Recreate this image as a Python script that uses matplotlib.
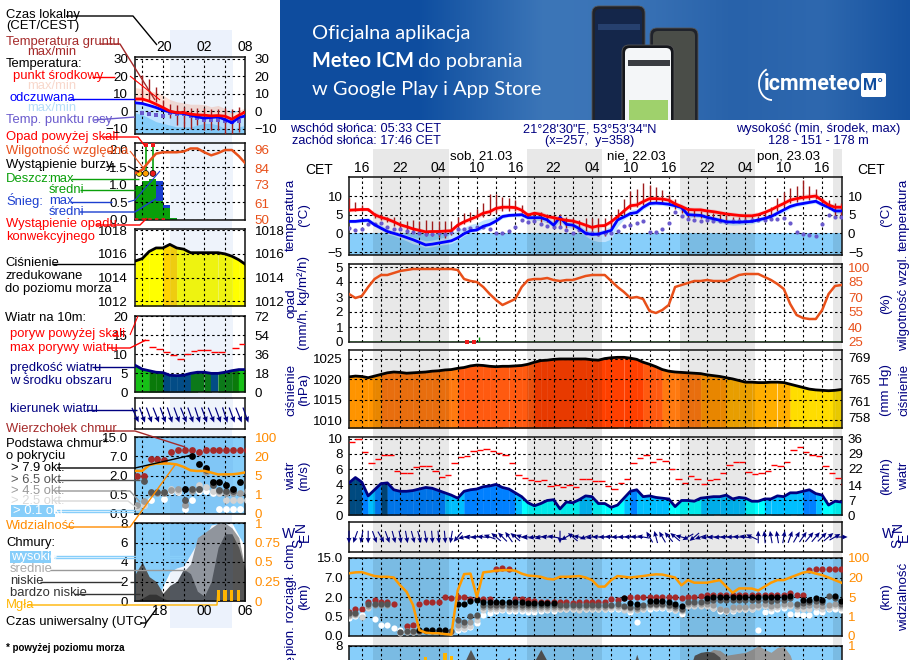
import numpy as np
import matplotlib
matplotlib.use("Agg")
from matplotlib import pyplot as plt
from matplotlib.patches import FancyBboxPatch, Rectangle, Arc

plt.rcParams['font.family'] = ['Liberation Sans', 'DejaVu Sans']
plt.rcParams['font.size'] = 9.4

W, H = 910, 660
na = float('nan')

# ---------- main meteogram, one value per hour, hour 14 of 20.03 onwards ----------
temp_mid = [6.2,6.3,6.4,6.4,5.0,4.3,3.8,3.1,2.3,1.8,1.2,0.8,
            .4,.5,.5,.6,.7,2.2,3.1,3.8,4.5,5.4,5.8,6.7,
            7,7,6.9,6.2,4.9,5.4,5.1,4.5,4.2,3.8,3.5,3.3,
            2.8,2.2,1.6,2.0,2.1,3.1,4.5,6,7.4,7.6,8.5,9.3,
            9.3,9.2,8.9,7.9,7.2,6.4,6.3,6.3,6.0,5.8,5.5,5.2,
            5.0,4.8,4.7,4.7,5.0,5.6,6.3,7.2,8.0,8.9,9.3,9.6,
            9.8,10,8.8,7.6,7,7]
temp_max = [6.8,6.9,7,7,5.8,5,4.5,3.8,2.8,2.3,1.8,1.4,
            1,1,1.1,1.2,1.5,2.9,3.8,4.6,5.4,6.2,6.6,7.5,
            7.8,7.8,7.6,7,5.6,6.1,5.9,5.2,5,4.6,4.1,4,
            3.4,2.8,2.2,2.6,2.8,3.8,5.2,6.8,8.2,8.5,9.4,10.2,
            10.2,10,9.7,8.7,7.9,7.1,7,7,6.7,6.5,6.2,5.9,
            5.7,5.5,5.4,5.5,5.8,6.4,7.1,8,8.9,9.8,10.2,10.5,
            10.7,10.9,9.7,8.4,7.7,7.7]
temp_min = [5.8,5.8,6,6,4.4,3.7,3.2,2.6,1.8,1.3,.8,.3,
            0,0,.1,.2,.2,1.6,2.6,3.2,3.9,4.7,5.2,6,
            6.3,6.4,6.2,5.5,4.3,4.8,4.5,3.8,3.6,3.1,2.9,2.7,
            2.2,1.6,1,1.4,1.6,2.5,3.9,5.4,6.8,7,7.8,8.6,
            8.5,8.4,8.2,7.2,6.6,5.8,5.7,5.7,5.4,5.2,4.9,4.6,
            4.4,4.2,4.1,4.1,4.4,5,5.6,6.6,7.3,8.2,8.7,9,
            9.2,9.4,8.2,7,6.4,6.4]
felt_mid = [3.2,3.2,3.4,3.5,2.3,1.4,.5,0,-.5,-1.1,-1.7,-2.4,
            -3.1,-2.9,-2.6,-2.3,-2,-1.2,-.1,.7,.9,1.9,2.4,3.3,
            4.5,4.8,4.9,5,4.2,4.2,4.2,3.6,2.2,4.3,2.4,2.2,
            1.3,0,-.3,-.2,.3,.8,3.6,4.4,5.3,5.6,7,8,
            8.1,8,7.8,7.4,6.9,5,4.9,4.8,4.3,3.9,3.5,3.1,
            3,3,3.1,3.2,3.6,4,4.5,5.4,6.3,7.2,7.7,8,
            8.3,8.6,7.7,7,6,6]
felt_max = [3.8,3.8,4,4.2,3,2.2,1.2,.6,.2,-.4,-1,-1.5,
            -2,-1.8,-1.4,-1,0,1,1.6,2.4,2.8,3.6,4,4.6,
            5.2,5.5,5.5,5.5,4.8,5,4.8,4.2,3.2,4.8,3.2,3,
            2.2,1,.6,.6,1.2,2,4.6,5.2,6.3,6.6,7.8,8.7,
            8.8,8.7,8.5,8.1,7.6,5.8,5.6,5.5,5,4.6,4.2,3.8,
            3.8,3.8,3.8,3.9,4.3,4.8,5.4,6.3,7,7.9,8.4,8.7,
            9,9.2,8.4,7.7,6.7,6.7]
felt_min = [2.8,2.8,2.9,3,1.8,.8,-.2,-.6,-1.3,-2,-2.8,-3.2,
            -3.8,-3.6,-3.2,-3,-2.7,-1.8,-.6,.2,.5,1.2,2,2.9,
            4,4.4,4.5,4.4,3.6,3.6,3.4,2.8,1.5,3,1.6,1.4,
            .6,-.7,-1.8,-2.2,-2.2,-1.5,1.8,3.8,4.8,5,6.4,7.4,
            7.6,7.5,7.2,6.8,6,4.2,4.3,4.2,3.7,3.3,2.8,2.4,
            2.2,2.3,2.4,2.6,3,3.5,4,4.8,5.7,6.6,7.2,7.5,
            7.9,8,7.1,6.4,5.4,5.4]
dew_point = [1.5,.9,1.2,2.5,2.4,2.7,1.8,1.2,1.2,.7,.3,0,
             -.2,-.3,0,-.2,.3,1.2,1.1,1.4,1.8,1.8,1.2,0,
             0,.6,1.6,3.5,3,3.4,2.6,2,1.8,1.8,.9,0,
             .9,.2,0,-.2,.1,0,.7,2,2.2,2.9,3.4,.4,
             .4,1.3,2.9,5.8,4.7,3.8,3.6,3.3,3.6,3.4,3.4,3.1,
             3.3,3.3,3.4,3.5,3.6,3.6,3.8,3.8,4.2,2.9,.4,-.2,
             -.4,-.7,2.4,4.9,4.3,4.3]
ground_max = [9.5,8.3,7.5,6.5,5.5,5.3,4.5,4.4,3.2,3.3,3.6,3.2,
              3.5,3.4,3.4,3.3,3.2,4.5,5.4,5.8,6.4,8,10.5,10.5,
              9.8,9.4,8.9,7.6,5.4,5.7,5.7,5.1,5,5.3,4.4,4,
              3.6,4,4.2,4,4,5,6.4,9.2,11.4,12,13.4,13,
              12.5,11.6,10.3,9.2,6.7,6.5,6.4,6,5.8,5.4,5.1,5,
              4.5,4.5,4.5,4.7,4.7,5.4,7,9.4,11.2,12.2,12.7,14.3,
              12.7,12,9.6,8.9,8,8]
ground_min = [6,6,6,6,4,3.5,3,2,1.5,0,0,0,
              -.8,-.8,-1,-1.2,-.5,1.5,2.5,3,4,4.5,5,5.5,
              6,6,6,5.5,4,3.5,3,3,2.5,2,1.5,1.5,
              1,.5,-.5,-.8,-.8,1.5,3.5,5,6.5,7,7.5,8.5,
              8.5,8,7.5,6.5,5.5,4.5,4.5,4.2,4,3.5,3.5,3,
              3,3,3,3,3.8,4.5,5,6,7,8,8.5,9,
              9,9.2,7.5,6.5,4.5,4.5]
humidity = [73,69,71,80,88,92,92,94,96,97,98,98,
            98,98,98,98,98,97,88,86,85,80,73,67,
            62,65,68,80,87,88,88,89,87,86,87,87,
            89,91,92,92,92,86,80,75,69,70,68,56,
            54,57,62,80,82,84,86,86,87,86,86,86,
            89,92,93,93,93,90,87,83,78,63,52,49,
            48,48,57,73,81,82]
conv_hours = [32.4, 33.5]
rain_hours = [33.5, 34.4]
rain_max = [0.15, 0.35]
pressure = [1020.6,1020.8,1020.7,1020.4,1020.8,1021.2,1021.6,1021.8,1021.7,1021.5,1021.6,1021.7,
            1021.8,1022,1022.1,1022.3,1022.4,1022.7,1022.9,1023.3,1023.5,1023.4,1023.2,1023.1,
            1023.2,1023.2,1023.3,1023.4,1023.7,1024.2,1024.6,1024.7,1024.9,1025,1025,1025,
            1025,1025,1024.8,1024.7,1025.1,1025.3,1025.4,1025.4,1025.2,1024.9,1024.2,1023.7,
            1023.1,1022.4,1022,1021.8,1021.7,1021.6,1021.5,1021.4,1021.1,1020.9,1020.7,1020.4,
            1020.1,1019.7,1019.3,1019.3,1019.2,1019.2,1019.3,1019.3,1019.2,1018.8,1018.4,1018,
            1017.6,1017.4,1017.3,1017.2,1017.3,1017.5]
wind = [4.2,4.9,4.3,2.5,3.3,4.1,4.2,3.3,3.1,3.1,3.2,3.4,
        3.6,3.5,3.2,2.9,2.6,2.2,3.1,3.3,3.4,3.7,3.8,4,
        3.6,3.4,2.9,2.4,1.6,1.2,1.5,1.9,2,.8,1.7,1.6,
        2,2.5,2.4,1.5,1.5,1,1.3,2.2,3.1,3.3,2.4,2.5,
        2.3,2.2,2.1,1.1,1.9,1.9,1.8,2.2,2.3,2.4,2.4,2.6,
        2.1,2.3,2.2,1.8,1.8,2.1,2.1,2.5,2.4,2.9,2.9,3.1,
        3.3,2.8,2.6,1.3,1.8,1.7]
gust = [9.6,9.9,8.2,6.8,7.3,7.9,7.9,5.8,5.5,5.5,6.3,6.4,
        6.4,5.8,5,5.2,6.8,7.6,7.7,8.4,8.5,8.6,8.4,8.1,
        7.9,6.8,5.2,4.9,4.6,4.5,4.6,3.8,3.9,3.6,3.9,3.6,
        4.7,4.7,4.4,4.4,3.8,3.4,4.2,4.7,6.8,7.4,7.8,6.9,
        7.3,7,6,4.7,4.2,5.1,4.7,4,4.6,4.7,5.5,6.5,
        6.9,6.9,5.6,5.4,5.5,5.7,6.5,6.4,6.9,8.5,8.9,8.2,
        7.9,7.7,6.4,5.5,4.9,4]
wind_dir = [0,20,10,0,340,330,340,345,350,350,345,345,
            350,355,355,355,10,40,75,85,85,95,110,130,
            135,145,130,110,95,80,75,90,100,0,60,130,
            100,70,80,90,90,95,90,90,92,95,100,150,
            165,150,140,130,105,60,50,70,80,85,85,88,
            90,95,100,115,180,175,170,170,190,200,210,215,
            220,220,225,230,240,270]
visibility = [37,41,42,34,26,23,23,20,14,9,3.4,.3,
              .17,.14,.14,.1,.07,10,34,36,5,41,44,48,
              50,50,48,36,28,26,23,19,18.5,23,23,24,
              26,20,18,13,13,18,26,23,20,23,26,30,
              33,32,26,20,14,18,16,16,16,17,18,13,
              8.3,11.6,11.6,11.5,10,13,16,18,18,20,30,40,
              44,36,30,20,18,16]
cloud_top = [.87,1.05,1.05,1.6,1.77,1.64,1.6,1.46,na,.26,.27,1.43,
             1.6,1.6,1.6,2,1.9,2,2,1.82,1.82,1.82,1.82,10.4,
             10.8,10.5,1.82,1.82,1.77,1.7,1.64,1.64,1.64,1.64,1.64,1.55,
             1.6,1.62,1.64,1.62,1.64,1.82,1.77,1.9,2,2,2,2,
             2,2,2,2,1.9,2,2.05,2.25,2.5,2.55,2.55,2.55,
             2.55,2.55,2.55,2.5,2.5,2.5,2.5,2.6,2.6,2.95,2.6,2.55,
             10,10.4,10.4,10.4,10.4,10.4]
base_79 = [na,na,na,na,na,na,na,na,na,na,na,.15,
           .15,.15,.15,.15,na,1.5,1.5,1.7,1.75,1.65,1.65,1.65,
           1.65,1.65,1.65,1.65,1.55,1.55,1.55,1.55,1.55,na,na,na,
           na,na,na,na,na,na,na,1.9,1.56,1.5,na,1.7,
           1.7,1.7,1.6,1.46,1.3,na,na,na,1.9,2,2,2,
           2,2,2,2,2,2,2,2,2,2.2,na,1.77,
           1.77,1.95,1.8,na,2.25,1.7]
base_65 = [.75,.8,na,1.45,1.5,1.5,1.5,na,.1,.13,.13,.12,
           .12,.12,.12,.12,.12,.4,.37,.55,.65,1.4,1.4,1.4,
           1.4,1.4,1.4,1.4,1.35,1.35,1.35,1.35,1.35,1.4,1.4,1.4,
           1.35,1.35,1.35,1.35,1.35,1.4,1.5,1.3,1.25,1.2,1.35,1.5,
           1.5,1.5,1.4,1.3,1.1,1.6,1.6,1.6,1.7,1.75,1.75,1.75,
           1.8,1.8,1.8,1.8,1.8,1.8,1.7,1.75,1.75,1.9,1.5,1.55,
           1.6,1.7,1.6,2.25,1.9,1.5]
base_45 = [.65,.72,na,1.3,1.35,1.35,1.35,na,.09,.11,.11,.1,
           na,na,na,na,.1,.27,.28,.35,.55,1.25,1.25,1.25,
           1.3,1.25,1.25,1.25,1.2,1.2,1.2,1.2,1.2,1.25,1.25,1.25,
           1.2,1.25,1.25,1.25,1.2,1.3,1.3,1.2,1.15,1.1,1.25,1.35,
           1.35,1.35,1.3,1.15,1,1.45,1.45,1.45,1.5,1.4,1.1,1,
           1.2,1.2,1.2,1.3,1.4,1.5,1.3,1.4,1.5,1.5,1.3,1.3,
           1.4,1.4,1.3,1.35,1.5,1.3]
base_25 = [.55,.6,.5,1.15,na,na,na,na,.08,.09,.09,na,
           na,na,na,na,na,.2,.2,.25,.42,1,1.1,1.1,
           1.1,1.1,1.1,1.1,1.05,1.05,1.05,1.05,1.05,1.1,1.1,1.1,
           1,1.05,1.1,1.1,1.1,1.15,1.15,1,1,1,1.1,1.2,
           1.2,1.2,1.15,1,.9,1.3,1.3,1.3,1.3,1.15,1.05,.9,
           1,1.05,1.05,1.1,1.2,1.3,1.15,1.25,1.3,1.3,1.1,1.05,
           1.1,1.2,1.1,1.15,1.3,1.15]
base_01 = [.45,.56,.62,1.38,.44,.28,.27,.2,.15,.13,.13,na,
           na,na,na,na,.1,.15,.17,.22,.33,.6,.75,.95,
           1,.95,.95,.9,.85,.85,.95,1,.95,1.05,1.05,1.05,
           1.05,1.05,1.05,1.05,1.05,1.05,1.05,1.05,.87,.37,1.05,1.05,
           1.18,1.18,1.05,1,.7,1.38,1.38,1.38,1.38,1.18,.95,.95,
           .95,1.05,1.05,1.05,.15,.87,.95,1.05,1.15,.7,.7,.6,
           .62,.87,.82,1.08,1.08,1]
cover_low = [0,0,0,0,0,0,0,0,0,0,0,0,
             0,0,0,0,1,3,6.2,7.6,6.3,4,6.6,5,
             6,6.8,5,3,2,6.4,7.6,6.4,4,2,1,0,
             0,0,0,0,0,0,0,2,5,7.1,5,2,
             0,0,0,0,2,5,7,7.3,7.4,7.3,6.8,3,
             0,0,0,0,0,0,0,0,0,0,0,0,
             0,0,0,0,0,0]
cover_mid = [0,0,0,0,0,0,0,0,0,0,0,0,
             0,0,0,0,0,0,0,0,0,0,0,0,
             0,0,0,0,0,0,0,0,0,0,0,0,
             0,0,0,0,0,0,0,0,0,0,0,0,
             0,0,0,0,2,4,5,7,7.2,7.6,7.5,7,
             7.1,7.2,7.3,7.6,8,7.6,7.3,7.8,7.9,7,5,0,
             0,0,0,0,0,0]
fog_hours = [26, 27, 29, 30]
fog_level = [.85, .82, .9, .87]

# time axis labels
cet_hours = [16,22,28,34,40,46,52,58,64,70,76,82,88]
cet_labels = ['16','22','04','10','16','22','04','10','16','22','04','10','16']
day_hours = [34.7, 58.9, 82.7]
day_labels = ['sob, 21.03', 'nie, 22.03', 'pon, 23.03']
night_spans = [(17.77,29.57),(41.77,53.57),(65.77,77.57),(89.77,91.2)]

# ---------- legend column, one value per hour, hours 16-32 ----------
leg_temp = [7,7,5.8,4,2.1,0,-.8,-.8,-1.7,-2.1,-2.3,-2.7,-2.5,-2.9,-4.6,-2.3,-.4]
leg_temp_max = [13.5,12.9,12,10.8,9.2,6.7,5.4,4.8,4,4,3.8,2.5,3.3,1.5,-1.3,.5,2]
leg_temp_min = [6,6,4.8,3,1,-1,-1.8,-1.8,-2.7,-3.1,-3.3,-3.7,-3.5,-3.9,-5.6,-3.3,-1.4]
leg_felt = [4.8,4.4,3.3,2.1,.6,-.4,-1,-1.3,-2.3,-3.3,-4,-3.6,-3.3,-4.8,-6.7,-3.6,-2.7]
leg_felt_max = [5.5,5,4,3,1.5,0,-.3,-.5,-1.5,-1.5,-2.5,-2.5,-2.5,-3.5,-5,-2.5,-1.5]
leg_felt_min = [-1,-2,-4,-6,-7,-8,-9,-9,-9,-8,-7,-7,-8,-10,-11,-9,-8]
leg_dew = [na,-1.3,-1.7,-2.3,-2.7,-1.3,-1.7,-1.7,-2.7,-3.7,-4.8,-5.2,-4.8,-5.6,-6.3,-5.6,na]
leg_ground_max = [na,20.5,18.7,13.7,6.4,4.4,3.5,2.5,2.1,2.1,2.1,1.5,1.5,2.1,1.5,2.5,na]
leg_ground_min = [na,4.4,6.4,5.4,.6,-4.2,-8,-9.2,-10,-8,-10.6,-11,-11,-12.9,-12.9,-11.9,na]
leg_humidity = [80.8,83,88.5,93.6,94.5,94.5,94.5,95,97,97,94.5,92.5,94,96,96,92,87]
leg_rain_hours = [16,17,18,19,20,21]
leg_rain = [.96,1.1,1.17,.53,.35,.06]
leg_snow_top = [.96,1.1,1.17,1.1,.43,.06]
leg_storm_hours = [16.55,17.5,18.55]
leg_storm_colors = ['#ffe000','#ffa000','#ee1c1c']
leg_rain_max = [1.35,2.18,2.18]
leg_over_hours = [17.5,18.55]
leg_pressure = [1015.4,1015.6,1016.2,1016.5,1016.5,1016.8,1016.5,1016.4,1016.1,1016.1,1016.1,1016.1,1016.1,1016,1015.8,1015.5,1015.1]
leg_wind = [7,6,5.6,5.2,5.1,4.4,4.3,4.4,4.9,5.2,5.2,4.9,4.9,5.2,5.6,5.9,5.9]
leg_gust = [na,13.7,11.8,11.4,10.6,9.8,8.8,10,10.8,11,11,10.6,10.6,na,11.7,12.7,12.8]
leg_dir = [335,340,340,338,340,342,340,338,340,342,340,338,340,342,340,338,340]
leg_vis = [8.6,8.6,13,14.3,14.3,14.3,13.6,11.7,9,8.5,8.6,7.3,5.8,5.9,5.9,6.5,7.5]
leg_top = [2,2,6.4,6.4,6,8.8,9.7,9.7,9.7,8.8,9.7,9.7,9.7,9.7,9.7,9.7,9.7]
leg_79 = [na,na,na,na,na,na,na,.92,7,5,4,1.5,1.5,1.25,.92,1.5,na]
leg_65 = [na,1.55,.68,.68,.68,na,na,.36,.92,.92,3.5,1.25,.88,.78,.78,na,1.5]
leg_45 = [.23,.35,.62,.62,.62,.87,.92,.23,.78,.92,3,1.46,.78,.65,.65,.6,.78]
leg_25 = [.17,.23,na,na,na,.92,.78,na,.92,1.25,1.1,.78,.6,.36,.36,.36,.36]
leg_01 = [na,.23,.36,na,.39,.78,.68,.12,.36,.78,.78,.65,.12,.12,.12,.12,na]
leg_high = [0,0,0,0,1.5,3,3.4,3.6,4.8,6,6.4,7.8,7.9,7.9,8,6.7,5.5]
leg_mid = [0,0,0,0,0,0,1,3,3.8,6.5,7,7.5,8,8,7.5,6.5,3]
leg_low = [2.8,4,2.5,2,.8,1.6,2,3.3,2.8,1,.5,2,5.5,6.9,6.9,5.5,3]
leg_vlow = [0,.3,.7,.7,.3,0,0,0,0,0,0,0,0,0,0,0,0]
leg_fog_hours = [28,29,30,31]
leg_fog = [.14,.14,.14,.14]

# non linear cloud axes
base_ticks = [0, .5, 2, 7, 15]
vis_ticks = [0, 1, 5, 20, 100]
base_fw = lambda v: np.interp(v, base_ticks, [0, 1, 2, 3, 4])
base_inv = lambda v: np.interp(v, [0, 1, 2, 3, 4], base_ticks)
vis_fw = lambda v: np.interp(v, vis_ticks, [0, 1, 2, 3, 4])
vis_inv = lambda v: np.interp(v, [0, 1, 2, 3, 4], vis_ticks)

NAVY = '#000080'
ORANGE = '#ff8c00'
HUM = '#e8501a'
DASH = (0, (2.2, 2.4))

fig = plt.figure(figsize=(W / 100, H / 100), dpi=100, facecolor='white')

# backdrop: day/night bands
bg = fig.add_axes([0, 0, 1, 1], zorder=-5)
bg.axis('off')
bg.set_xlim(0, W)
bg.set_ylim(H, 0)
hour_px = lambda h: 362 + (h - 16) * 6.39
for a, b in night_spans:
    bg.add_patch(Rectangle((hour_px(a), 149), hour_px(min(b, 91.05)) - hour_px(a), H - 149, color='#e8e8e8', lw=0))
bg.add_patch(Rectangle((170, 30), 62, 598, color='#ecf2fc', lw=0))


def panel(x0, y0, x1, y1, hours=None, night=None, night_color='black', night_alpha=.09):
    ax = fig.add_axes([x0 / W, 1 - y1 / H, (x1 - x0) / W, (y1 - y0) / H], facecolor='white')
    ax.set_xlim(*hours)
    ax.set_axisbelow(False)
    for s in ax.spines.values():
        s.set_linewidth(1.1)
        s.set_color('#111111')
    for a, b in night:
        ax.axvspan(a, b, color=night_color, alpha=night_alpha, lw=0, zorder=1.2)
    return ax


def grid_setup(ax, xt, yt, ylabels=None, pad=4.3, color='black'):
    ax.set_xticks(xt)
    ax.set_xticklabels([])
    ax.set_yticks(yt)
    if ylabels is not None:
        ax.set_yticklabels(ylabels)
    ax.tick_params(length=0, pad=pad, labelcolor=color, labelsize=9.6)
    ax.grid(True, color='black', linestyle=DASH, linewidth=.8)


def right_axis(ax, ylim, yt, ylabels=None, pad=4.3, color='black', scale=None):
    rx = ax.twinx()
    if scale is not None:
        rx.set_yscale('function', functions=scale)
    rx.set_ylim(*ylim)
    rx.set_yticks(yt)
    if ylabels is not None:
        rx.set_yticklabels(ylabels)
    rx.tick_params(length=0, pad=pad, labelcolor=color, labelsize=9.6)
    rx.minorticks_off()
    for s in rx.spines.values():
        s.set_visible(False)
    return rx


def value_fill(ax, t, y, bottom, bins, colors):
    # one filled slice between neighbouring hours, coloured by its mean value
    y = np.asarray(y)
    for i in range(len(t) - 1):
        k = np.searchsorted(bins, (y[i] + y[i + 1]) / 2) - 1
        k = min(max(k, 0), len(colors) - 1)
        ax.fill_between(t[i:i + 2], y[i:i + 2], bottom, color=colors[k], lw=.25, zorder=1)


def draw_bases(ax, t, top, b79, b65, b45, b25, b01, size):
    for vals, col in [(top, '#a52a2a'), (b01, 'white'), (b25, '#d2d2d2'), (b45, '#9c9c9c'), (b65, '#555555'), (b79, 'black')]:
        ax.scatter(t, vals, s=size, color=col, lw=0, zorder=3)


# ---------- main column ----------
t_main = np.arange(14, 14 + len(temp_mid))
xlim_main = (14, 91.1)
xt_main = np.arange(16, 91, 3)

ax = panel(349, 177, 842, 255, xlim_main, night_spans)
ax.set_ylim(-5.8, 15.1)
ax.axhspan(-5.8, 0, color='#87cefa', lw=0, zorder=.5)
ax.fill_between(t_main, temp_min, temp_max, color='#ffdcdc', lw=0, zorder=.8)
ax.fill_between(t_main, felt_min, felt_max, color='#bfe3ff', lw=0, zorder=.9)
ax.vlines(t_main, ground_min, ground_max, color='#a01c1c', lw=1, zorder=3)
ax.scatter(t_main, dew_point, s=9, color='#6a5acd', lw=0, zorder=3)
ax.plot(t_main, felt_mid, color='#0000ff', lw=2, zorder=4)
ax.plot(t_main, temp_mid, color='#ff0000', lw=2, zorder=4)
grid_setup(ax, xt_main, [-5, 0, 5, 10])
right_axis(ax, (-5.8, 15.1), [-5, 0, 5, 10])
for h, lab in zip(cet_hours, cet_labels):
    ax.text(h, 1.03, lab, transform=ax.get_xaxis_transform(), ha='center', va='bottom', fontsize=10)
for h, lab in zip(day_hours, day_labels):
    ax.text(h, 1.18, lab, transform=ax.get_xaxis_transform(), ha='center', va='bottom', fontsize=9.6)

ax = panel(349, 264, 842, 342, xlim_main, night_spans)
ax.set_ylim(0, 5.2)
grid_setup(ax, xt_main, [0, 1, 2, 3, 4, 5])
ax.axhline(0.03, color='#0a9a0a', lw=1, zorder=3)
ax.vlines(rain_hours, 0, rain_max, color='#0a9a0a', lw=1, zorder=3)
ax.scatter(conv_hours, [0.03, 0.03], s=9, marker='s', color='#ee1c1c', lw=0, zorder=4, clip_on=False)
rx = right_axis(ax, (25, 103), [25, 40, 55, 70, 85, 100], color=HUM)
rx.plot(t_main, humidity, color=HUM, lw=1.8)

ax = panel(349, 350, 842, 428, xlim_main, night_spans)
ax.set_ylim(1008.05, 1027.2)
value_fill(ax, t_main, pressure, 1008.05, [1000, 1018.7, 1020.5, 1021.3, 1022.6, 1024, 1030],
           ['#ffdd00', '#ffae00', '#ff9400', '#ff7a10', '#ff5a10', '#ff4000'])
ax.plot(t_main, pressure, color='black', lw=2, zorder=4)
grid_setup(ax, xt_main, [1010, 1015, 1020, 1025])
right_axis(ax, (1008.05 * .75006, 1027.2 * .75006), [758, 761, 765, 769])

ax = panel(349, 437, 842, 515, xlim_main, night_spans)
ax.set_ylim(0, 10.2)
value_fill(ax, t_main, wind, 0, [0, 2, 3, 4.05, 99], ['#00ffff', '#00bfff', '#0080ff', '#004a80'])
ax.hlines(gust, t_main, t_main + 1, color='#ff0000', lw=1, zorder=4)
ax.plot(t_main, wind, color=NAVY, lw=2, zorder=4)
grid_setup(ax, xt_main, [0, 2, 4, 6, 8, 10])
right_axis(ax, (0, 36.7), [0, 7, 14, 22, 29, 36])

ax = panel(349, 522, 842, 552, xlim_main, night_spans)
ax.set_ylim(-1, 1)
grid_setup(ax, xt_main, [])
d = np.radians(wind_dir)
ax.quiver(t_main, np.zeros(len(t_main)), -np.sin(d), -np.cos(d), pivot='mid', angles='uv',
          scale_units='inches', scale=1 / .125, units='inches', width=.011, headwidth=4.5,
          headlength=5, headaxislength=4.5, color=NAVY, zorder=4, clip_on=False)

ax = panel(349, 558, 842, 636, xlim_main, night_spans)
ax.set_yscale('function', functions=(base_fw, base_inv))
ax.set_ylim(0, 15)
ax.axhspan(0, 15, color='#87cefa', lw=0, zorder=.5)
draw_bases(ax, t_main, cloud_top, base_79, base_65, base_45, base_25, base_01, 20)
grid_setup(ax, xt_main, base_ticks, ['0.0', '0.5', '2.0', '7.0', '15.0'])
ax.minorticks_off()
rx = right_axis(ax, (0, 100), vis_ticks, color=ORANGE, scale=(vis_fw, vis_inv))
rx.plot(t_main, visibility, color='#ff9a00', lw=1.8)

ax = panel(349, 645.5, 842, 723.5, xlim_main, night_spans)
ax.set_ylim(0, 8)
ax.axhspan(0, 8, color='#87cefa', lw=0, zorder=.5)
ax.fill_between(t_main, 0, cover_mid, color='#999999', lw=0, zorder=.8)
ax.fill_between(t_main, 0, cover_low, color='#555555', lw=0, zorder=.9)
ax.bar(fog_hours, np.array(fog_level) * 8, width=.55, color='#ffb400', zorder=3)
grid_setup(ax, xt_main, [8])
right_axis(ax, (0, 1), [1], color=ORANGE)

# ---------- legend column ----------
t_leg = np.arange(16, 16 + len(leg_temp))
xlim_leg = (15.95, 31.9)
xt_leg = [17, 20, 23, 26, 29]
night_leg = [(21.05, 30.1)]
leg_kw = dict(night_color='#2f6fd0', night_alpha=.08)

ax = panel(135, 57, 245, 134, xlim_leg, night_leg, **leg_kw)
ax.set_ylim(-13.1, 31.1)
ax.axhspan(-13.1, 0, color='#87cefa', lw=0, zorder=.5)
ax.fill_between(t_leg, leg_temp_min, leg_temp_max, color='#ffe0d4', lw=0, zorder=.8)
ax.fill_between(t_leg, leg_felt_min, leg_felt_max, color='#bfe3ff', lw=0, zorder=.9)
ax.vlines(t_leg, leg_ground_min, leg_ground_max, color='#a01c1c', lw=1, zorder=3)
ax.scatter(t_leg, leg_dew, s=10, marker='s', color='#6a5acd', lw=0, zorder=3)
ax.plot(t_leg, leg_felt, color='#0000ff', lw=2, zorder=4)
ax.plot(t_leg, leg_temp, color='#ff0000', lw=2, zorder=4)
grid_setup(ax, xt_leg, [-10, 0, 10, 20, 30], pad=5)
right_axis(ax, (-13.1, 31.1), [-10, 0, 10, 20, 30], pad=7)

ax = panel(135, 143, 245, 220, xlim_leg, night_leg, **leg_kw)
ax.set_ylim(0, 2.2)
ax.bar(leg_rain_hours, leg_snow_top, width=1, align='edge', color='#1c3fd0', lw=0, zorder=1)
ax.bar(leg_rain_hours, leg_rain, width=1, align='edge', color='#0aa00a', lw=0, zorder=1.1)
ax.vlines(leg_storm_hours, 1.3, leg_rain_max, color='#0aa00a', lw=1.2, zorder=3)
ax.scatter(leg_storm_hours, [1.33] * 3, s=18, c=leg_storm_colors, edgecolors='black', linewidths=.5, zorder=4)
ax.scatter(leg_over_hours, [2.13] * 2, s=8, marker='s', color='#ee1c1c', lw=0, zorder=4)
ax.hlines(.02, 16, 20.5, color='#ee1c1c', lw=1.2, linestyle=(0, (2, 2)), zorder=4)
grid_setup(ax, xt_leg, [0, .5, 1, 1.5, 2], ['0.0', '0.5', '1.0', '1.5', '2.0'], pad=5)
rx = right_axis(ax, (50, 100.6), [50, 61, 73, 84, 96], color=HUM, pad=7)
rx.plot(t_leg, leg_humidity, color=HUM, lw=1.8)

ax = panel(135, 229, 245, 306, xlim_leg, night_leg, **leg_kw)
ax.set_ylim(1011.6, 1018.1)
value_fill(ax, t_leg, leg_pressure, 1011.6, [1000, 1016.6, 1030], ['#ffff00', '#ffd400'])
ax.plot(t_leg, leg_pressure, color='black', lw=2, zorder=4)
grid_setup(ax, xt_leg, [1012, 1014, 1016, 1018], pad=5)
right_axis(ax, (1011.6, 1018.1), [1012, 1014, 1016, 1018], pad=7)

ax = panel(135, 316, 245, 392, xlim_leg, night_leg, **leg_kw)
ax.set_ylim(0, 20)
value_fill(ax, t_leg, leg_wind, 0, [0, 5, 5.75, 99], ['#004a80', '#0a7a0a', '#16c016'])
ax.hlines(leg_gust, t_leg, t_leg + 1, color='#ff0000', lw=1, zorder=4)
ax.plot(t_leg, leg_wind, color=NAVY, lw=2, zorder=4)
grid_setup(ax, xt_leg, [0, 5, 10, 15, 20], pad=5)
right_axis(ax, (0, 72), [0, 18, 36, 54, 72], pad=7)

ax = panel(135, 398, 245, 429, xlim_leg, night_leg, **leg_kw)
ax.set_ylim(-1, 1)
grid_setup(ax, xt_leg, [])
d = np.radians(leg_dir)
ax.quiver(t_leg, np.zeros(len(t_leg)) - .1, -np.sin(d), -np.cos(d), pivot='mid', angles='uv',
          scale_units='inches', scale=1 / .16, units='inches', width=.012, headwidth=4.5,
          headlength=5, headaxislength=4.5, color=NAVY, zorder=4, clip_on=False)

ax = panel(135, 437, 245, 514, xlim_leg, night_leg, **leg_kw)
ax.set_yscale('function', functions=(base_fw, base_inv))
ax.set_ylim(0, 15)
ax.axhspan(0, 15, color='#87cefa', lw=0, zorder=.5)
draw_bases(ax, t_leg + .2, leg_top, leg_79, leg_65, leg_45, leg_25, leg_01, 24)
grid_setup(ax, xt_leg, base_ticks, ['0.0', '0.5', '2.0', '7.0', '15.0'], pad=5)
ax.minorticks_off()
rx = right_axis(ax, (0, 100), vis_ticks, color=ORANGE, pad=7, scale=(vis_fw, vis_inv))
rx.plot(t_leg, leg_vis, color='#ff9a00', lw=1.8)

ax = panel(135, 523, 245, 601, xlim_leg, night_leg, **leg_kw)
ax.set_ylim(0, 8)
ax.axhspan(0, 8, color='#87cefa', lw=0, zorder=.5)
ax.fill_between(t_leg, 0, leg_high, color='white', lw=0, zorder=.7)
ax.fill_between(t_leg, 0, leg_mid, color='#999999', lw=0, zorder=.8)
ax.fill_between(t_leg, 0, leg_low, color='#555555', lw=0, zorder=.9)
ax.fill_between(t_leg, 0, leg_vlow, color='#333333', lw=0, zorder=1)
ax.bar(leg_fog_hours, np.array(leg_fog) * 8, width=.45, color='#ffb400', zorder=3)
grid_setup(ax, xt_leg, [0, 2, 4, 6, 8], pad=5)
right_axis(ax, (0, 1), [0, .25, .5, .75, 1], ['0', '0.25', '0.5', '0.75', '1'], color=ORANGE, pad=7)

# ---------- overlay: texts and leader lines ----------
ov = fig.add_axes([0, 0, 1, 1], zorder=20)
ov.axis('off')
ov.patch.set_alpha(0)
ov.set_xlim(0, W)
ov.set_ylim(H, 0)


def txt(x, y, s, color='black', size=9.4, ha='left', axes=None, **kw):
    (axes or ov).text(x, y, s, color=color, fontsize=size, ha=ha, va='center', **kw)


def path(pts, color='black', lw=1):
    xs, ys = zip(*pts)
    ov.plot(xs, ys, color=color, lw=lw, solid_capstyle='butt')


DRED = '#a52a2a'
RED = '#ff0000'
GREEN = '#0aa00a'
BLUE = '#1c3fd0'
rows = [(6,15,'Czas lokalny','black'),(6,26,'(CET/CEST)','black'),
        (6,42,'Temperatura gruntu',DRED),(27,52,'max/min',DRED),(6,64,'Temperatura:','black'),
        (13,76,'punkt środkowy',RED),(27,86,'max/min','#f8d8cc'),(10,98,'odczuwana','#0000ff'),
        (27,108,'max/min','#b4ddf8'),(6,120,'Temp. punktu rosy','#6a5acd'),
        (6,137,'Opad powyżej skali',RED),(6,151,'Wilgotność względna',HUM),(6,165,'Wystąpienie burzy','black'),
        (6,179,'Deszcz:',GREEN),(49,179,'max',GREEN),(49,190,'średni',GREEN),(6,201,'Śnieg:',BLUE),
        (49,201,'max',BLUE),(49,212,'średni',BLUE),(6,224,'Wystąpienie opadu',RED),(6,237,'konwekcyjnego',RED),
        (5,263,'Ciśnienie','black'),(5,276,'zredukowane','black'),(5,289,'do poziomu morza','black'),
        (5,318,'Wiatr na 10m:','black'),(10,334,'poryw powyżej skali',RED),(10,348,'max porywy wiatru',RED),
        (10,368,'prędkość wiatru',NAVY),(10,381,'w środku obszaru',NAVY),(10,409,'kierunek wiatru',NAVY),
        (6,429,'Wierzchołek chmur',DRED),(6,444,'Podstawa chmur*','black'),(6,456,'o pokryciu','black'),
        (11,468,'> 7.9 okt.','black'),(11,480,'> 6.5 okt.','#555555'),(11,491,'> 4.5 okt.','#999999'),
        (11,501,'> 2.5 okt.','#d8d8d8'),(6,526,'Widzialność','#ff8c00'),(6,543,'Chmury:','black'),
        (10,569,'średnie','#aaaaaa'),(10,581,'niskie','#333333'),(10,593,'bardzo niskie','#333333'),
        (6,605,'Mgła','#ffb400'),(6,622,'Czas uniwersalny (UTC)','black')]
for x, y, s, c in rows:
    txt(x, y, s, c)
ov.add_patch(Rectangle((11, 505), 44, 12, color='#87cefa', lw=0))
txt(13, 511, '> 0.1 okt.', 'white')
ov.add_patch(Rectangle((10, 551), 41, 12, color='#87cefa', lw=0))
txt(11, 557, 'wysokie', 'white')
txt(6, 648, '* powyżej poziomu morza', 'black', size=7, fontweight='bold')

for h, lab in zip([164, 204, 245], ['20', '02', '08']):
    txt(h, 47, lab, ha='center', size=10)
for h, lab in zip([160, 204, 245], ['18', '00', '06']):
    txt(h, 611, lab, ha='center', size=10)

path([(66,16),(133,16),(157,45)])
path([(100,44),(120,44),(155,100)], DRED)
path([(92,77),(115,77)], RED)
path([(130,76),(160,100)], RED, .8)
path([(70,99),(135,99)], '#0000ff')
path([(94,120),(135,117)], '#6a5acd')
path([(103,137),(138,137),(145,146)], RED)
path([(107,151),(112,151)], HUM)
path([(130,151),(145,170)], HUM, .8)
path([(106,166),(115,166)])
path([(128,166),(139,172)], 'black', .8)
path([(71,179),(139,179)], GREEN)
path([(80,190),(135,190)], GREEN)
path([(70,202),(112,202)], BLUE)
path([(128,202),(135,200),(160,171)], BLUE, .8)
path([(80,212),(135,212),(162,195)], BLUE)
path([(96,225),(140,225),(147,218)], RED)
path([(52,264),(135,264)])
path([(112,335),(118,335)], RED)
path([(130,335),(138,316)], RED, .8)
path([(107,348),(130,348),(146,340)], RED)
path([(92,367),(135,367)], NAVY)
path([(86,410),(137,410)], NAVY)
path([(100,431),(135,431),(185,447)], DRED)
path([(57,468),(135,468),(192,455)])
path([(57,480),(140,480)], '#555555')
path([(55,491),(130,491),(140,502)], '#999999')
path([(55,501),(128,501),(137,508)], '#d8d8d8')
path([(55,510),(135,510)], '#87cefa')
path([(55,512),(135,512)], '#87cefa')
path([(67,527),(130,527),(175,465)], '#ff8c00')
path([(54,556),(185,556)], '#87cefa')
path([(54,558),(185,558)], '#87cefa')
path([(50,570),(190,570)], '#999999')
path([(40,582),(122,582)], '#333333')
path([(130,582),(135,582)], '#333333')
path([(74,594),(140,594)], '#333333')
path([(27,605),(217,605),(218,590)], '#ffb400')
path([(140,623),(146,623),(157,608)])

# header of the main column
txt(290, 129, 'wschód słońca: 05:33 CET', NAVY, size=9.2)
txt(292, 141, 'zachód słońca: 17:46 CET', NAVY, size=9.2)
txt(590, 129, '21°28\'30"E, 53°53\'34"N', NAVY, size=9.2, ha='center')
txt(590, 141, '(x=257,  y=358)', NAVY, size=9.2, ha='center')
txt(818, 129, 'wysokość (min, środek, max)', NAVY, size=9.2, ha='center')
txt(818, 141, '128 - 151 - 178 m', NAVY, size=9.2, ha='center')
txt(319, 170, 'CET', size=10, ha='center')
txt(871, 170, 'CET', size=10, ha='center')

side = [(291,215,'temperatura'),(304,215,'(°C)'),(291,303,'opad'),(304,303,'(mm/h, kg/m²/h)'),
        (291,390,'ciśnienie'),(304,390,'(hPa)'),(291,476,'wiatr'),(304,476,'(m/s)'),
        (291,597,'pion. rozciągł. chm.'),(304,597,'(km)'),(291,680,'pokrycie'),
        (886,215,'(°C)'),(904,215,'temperatura'),(886,303,'(%)'),(904,303,'wilgotność wzgl.'),
        (886,390,'(mm Hg)'),(904,390,'ciśnienie'),(886,476,'(km/h)'),(904,476,'wiatr'),
        (886,597,'(km)'),(904,597,'widzialność')]
for x, y, s in side:
    txt(x, y, s, NAVY, size=9.6, ha='center', rotation=90)
for x, y, s, r in [(289,534,'W',0),(298,543,'S',90),(301,527,'N',90),(305,537,'E',90),
                   (888,534,'W',0),(897,543,'S',90),(898,527,'N',90),(904,537,'E',90)]:
    txt(x, y, s, NAVY, size=10, ha='center', rotation=r)

# ---------- banner ----------
bn = fig.add_axes([280 / W, 1 - 120 / H, 630 / W, 120 / H], zorder=21)
bn.axis('off')
grad_pos = np.linspace(0, 1, 315)
grad_x = [0, .22, .42, .56, .72, .86, 1]
grad_rgb = np.dstack([np.interp(grad_pos, grad_x, [14, 14, 60, 58, 40, 46, 22]),
                      np.interp(grad_pos, grad_x, [76, 78, 118, 115, 98, 104, 82]),
                      np.interp(grad_pos, grad_x, [158, 160, 184, 182, 170, 175, 160])]) / 255
bn.imshow(grad_rgb, extent=(280, 910, 120, 0), aspect='auto', zorder=0)
bn.set_xlim(280, 910)
bn.set_ylim(120, 0)
txt(312, 33, 'Oficjalna aplikacja', 'white', size=14.4, axes=bn, family='Lato')
txt(312, 61, 'Meteo ICM', 'white', size=14.4, axes=bn, family='Lato', fontweight='bold')
txt(418, 61, 'do pobrania', 'white', size=14.4, axes=bn, family='Lato')
txt(312, 89, 'w Google Play i App Store', 'white', size=14.4, axes=bn, family='Lato')
for x0, y0, w, h, edge, face in [(592, 6, 53, 130, '#20232b', '#14264a'),
                                 (650, 28, 48, 110, '#20232b', '#4a4d48'),
                                 (622, 45, 52, 95, '#15171c', '#f4f6f8')]:
    bn.add_patch(FancyBboxPatch((x0, y0), w, h, boxstyle='round,pad=0,rounding_size=7', fc=edge, ec='#555555', lw=.6))
    bn.add_patch(FancyBboxPatch((x0 + 3, y0 + 3), w - 6, h - 6, boxstyle='round,pad=0,rounding_size=5', fc=face, ec='none'))
bn.add_patch(Rectangle((628, 60), 42, 6, color='#3a3c42', lw=0, zorder=2))
bn.add_patch(Rectangle((629, 100), 39, 20, color='#9fd16c', lw=0, zorder=2))
bn.add_patch(Rectangle((598, 24), 42, 6, color='#26406e', lw=0, zorder=2))
txt(764, 84, 'icmmeteo', 'white', size=15.5, axes=bn, family='Roboto', fontweight='bold')
bn.add_patch(Arc((772, 84), 26, 32, theta1=90, theta2=250, color='white', lw=1.3))
bn.add_patch(FancyBboxPatch((861, 73), 25, 24, boxstyle='round,pad=0,rounding_size=2', fc='white', ec='none'))
txt(873.5, 85, 'M°', '#0e4c9e', size=11.5, ha='center', axes=bn, family='Roboto', fontweight='bold')

fig.savefig('out.png', dpi=100, facecolor='white')
